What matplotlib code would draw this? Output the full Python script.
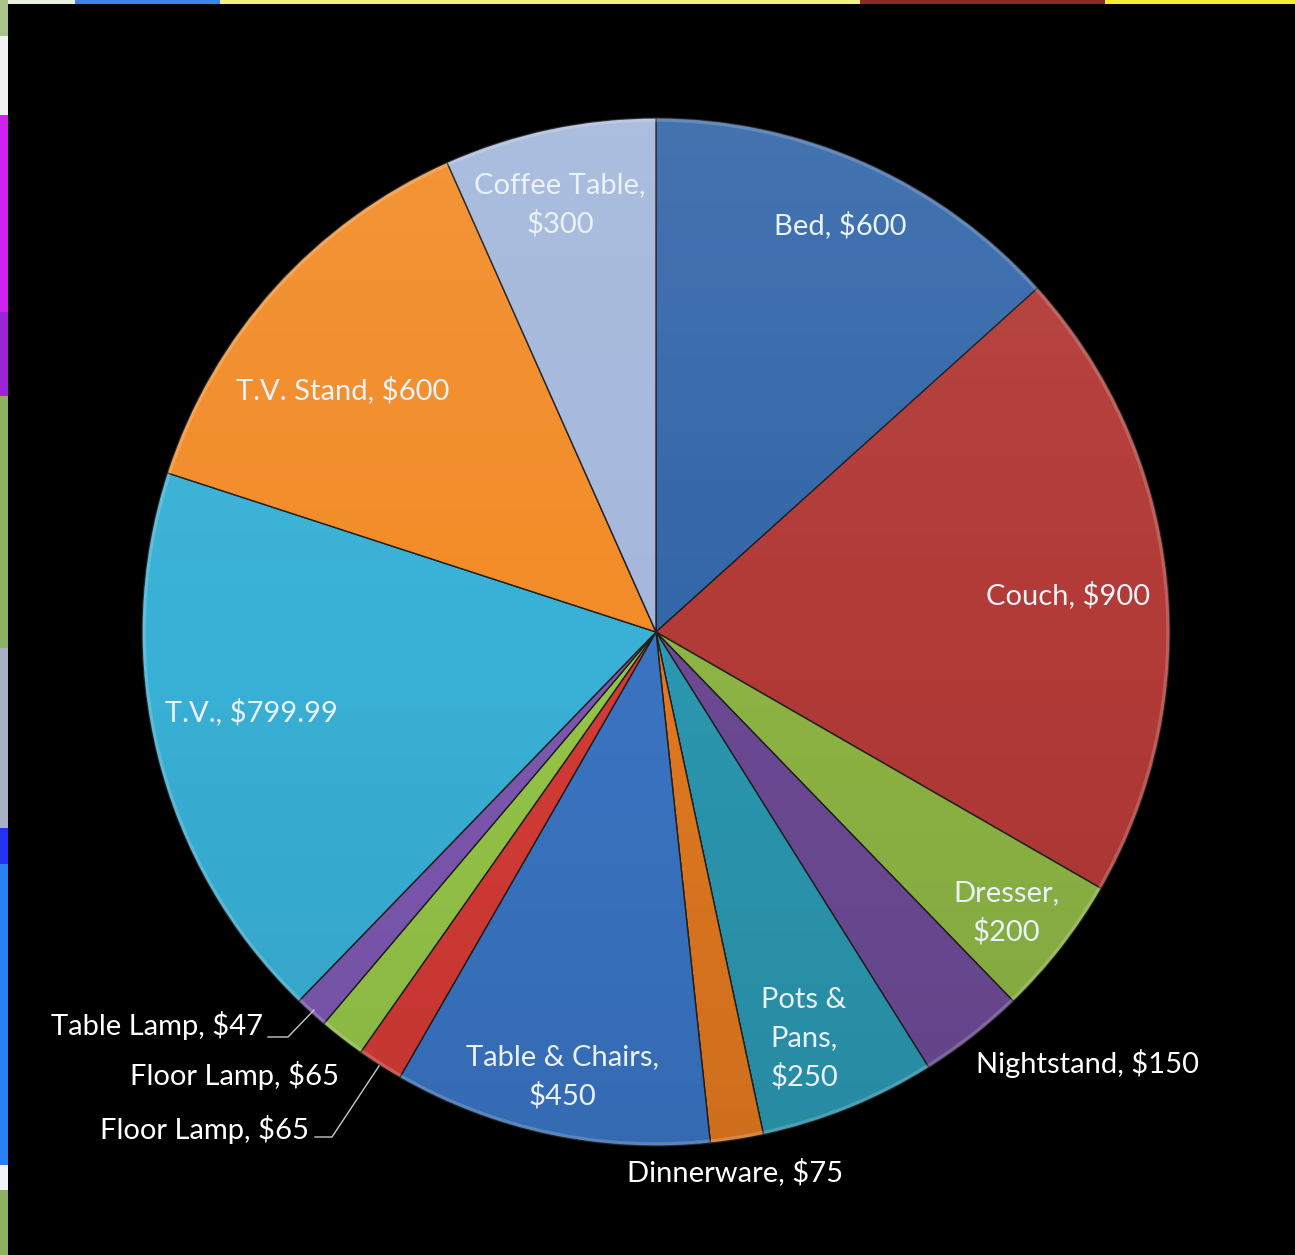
import numpy as np
import matplotlib.pyplot as plt
from matplotlib.patches import Rectangle, Circle

plt.rcParams['font.family'] = ['Lato', 'DejaVu Sans']

items = ['Bed', 'Couch', 'Dresser', 'Nightstand', 'Pots & Pans', 'Dinnerware',
         'Table & Chairs', 'Floor Lamp', 'Floor Lamp', 'Table Lamp', 'T.V.',
         'T.V. Stand', 'Coffee Table']
prices = [600, 900, 200, 150, 250, 75, 450, 65, 65, 47, 799.99, 600, 300]
price_txt = ['$600', '$900', '$200', '$150', '$250', '$75', '$450', '$65', '$65',
             '$47', '$799.99', '$600', '$300']
colors = ['#3467a9', '#b23a37', '#8db444', '#6c4a94', '#2b97b0', '#e07820',
          '#3a74c2', '#d43b36', '#95c548', '#7c58b0', '#39b1d6', '#f28c28',
          '#a5b8dc']

W, H = 1295, 1255
fig = plt.figure(figsize=(W / 100, H / 100), dpi=100)
fig.patch.set_facecolor('black')
ax = fig.add_axes([0, 0, 1, 1])

# bits of the slide peeking in along the top and left edges
strips = [
    (0, 0, 8, 36, '#a8c488'), (0, 36, 8, 79, '#f2f2f2'), (0, 115, 8, 197, '#d022ee'),
    (0, 312, 8, 84, '#9a24d6'), (0, 396, 8, 252, '#8fb064'), (0, 648, 8, 180, '#a8b0c6'),
    (0, 828, 8, 36, '#2232f0'), (0, 864, 8, 301, '#2a80f2'), (0, 1165, 8, 25, '#eef4f8'),
    (0, 1190, 8, 65, '#8fb064'),
    (8, 0, 67, 4, '#e8f0e0'), (75, 0, 145, 4, '#3a86ee'), (220, 0, 640, 4, '#f4f080'),
    (860, 0, 245, 4, '#8a2a22'), (1105, 0, 190, 4, '#f6ee30'),
]
for x0, y0, w, h, c in strips:
    ax.add_patch(Rectangle((x0, y0), w, h, color=c, lw=0, zorder=0))

cx, cy, R = 656, 632, 514
# pie drawn in a y-down frame, so counterclock=True walks clockwise on screen
wedges, _ = ax.pie(prices, colors=colors, startangle=-90, counterclock=True,
                   center=(cx, cy), radius=R, frame=True,
                   wedgeprops=dict(edgecolor='#1e1e1e', linewidth=1.0))

# soft top-light / bottom-dark shading over the whole pie
grad = np.linspace(0, 1, 256)[:, None] * np.ones((1, 2))
shade = np.zeros((256, 2, 4))
shade[..., :3] = np.where(grad[..., None] < 0.5, 1.0, 0.0)
shade[..., 3] = np.abs(grad - 0.5) * 0.16
img = ax.imshow(shade, extent=(cx - R, cx + R, cy + R, cy - R), aspect='auto',
                zorder=3, interpolation='bilinear')
img.set_clip_path(Circle((cx, cy), R, transform=ax.transData))
# faint light rim along the outer edge
ax.add_patch(Circle((cx, cy), R - 2, fill=False, ec='white', lw=2.5, alpha=0.18, zorder=4))

ax.set_xlim(0, W)
ax.set_ylim(H, 0)
ax.axis('off')

# labels sitting inside their slices; text wrapped like the data-label boxes
inside = {
    0: ((840, 225), f'{items[0]}, {price_txt[0]}'),
    1: ((1068, 595), f'{items[1]}, {price_txt[1]}'),
    2: ((1006, 913), f'{items[2]},\n{price_txt[2]}'),
    4: ((804, 1039), 'Pots &\nPans,\n' + price_txt[4]),
    6: ((562, 1077), f'{items[6]},\n{price_txt[6]}'),
    10: ((251, 712), f'{items[10]}, {price_txt[10]}'),
    11: ((343, 390), f'{items[11]}, {price_txt[11]}'),
    12: ((560, 205), f'{items[12]},\n{price_txt[12]}'),
}
for i, ((x, y), txt) in inside.items():
    ax.text(x, y, txt, ha='center', va='center', fontsize=21, color='#eaf2fa',
            linespacing=1.55, zorder=5)

# labels placed outside the pie
outside = {3: (1087, 1063), 5: (735, 1172), 7: (205, 1129), 8: (235, 1075), 9: (157, 1026)}
for i, (x, y) in outside.items():
    ax.text(x, y, f'{items[i]}, {price_txt[i]}', ha='center', va='center',
            fontsize=21, color='white', zorder=5)

# leader lines for the thin lamp slices
lc = '#c8c8c8'
ax.plot([268, 288, 314], [1037, 1037, 1010], color=lc, lw=1.0, zorder=5)
ax.plot([315, 332, 379], [1137, 1137, 1066], color=lc, lw=1.0, zorder=5)

fig.savefig('out.png', dpi=100, facecolor='black')
